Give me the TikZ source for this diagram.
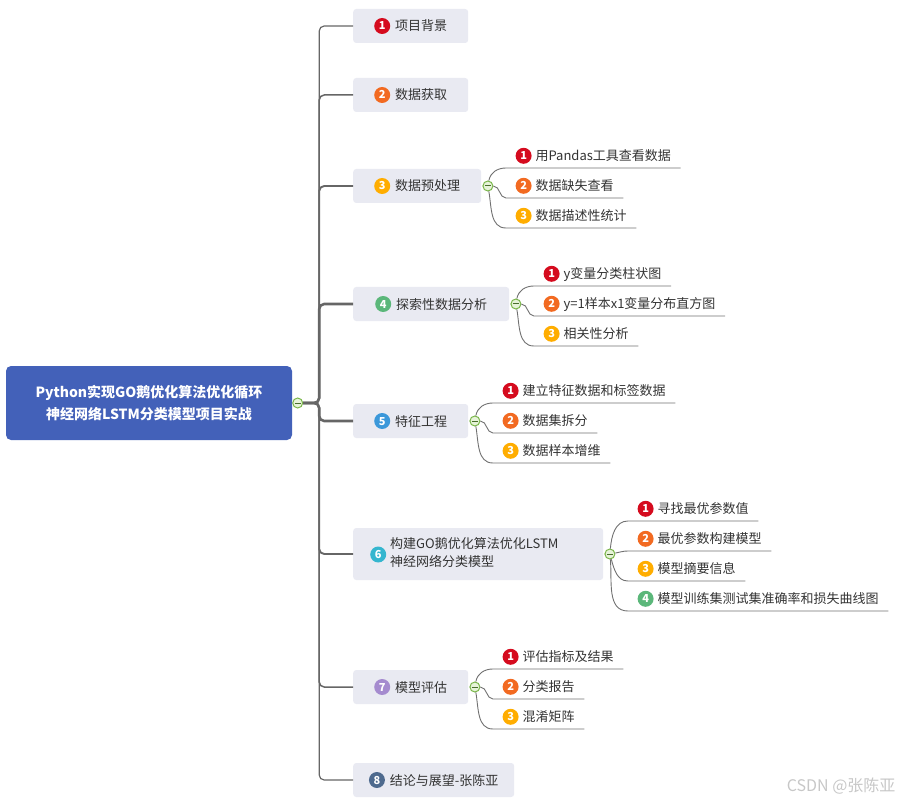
\documentclass[tikz,border=0pt]{standalone}
\usepackage{fontspec}
\setmainfont{Noto Sans CJK SC}
\usepackage{tikz}
\usetikzlibrary{positioning, calc}

\definecolor{rootblue}{HTML}{4361B9}
\definecolor{boxgray}{HTML}{E9EAF2}
\definecolor{ink}{HTML}{333333}
\definecolor{linegray}{HTML}{666666}
\definecolor{twiggray}{HTML}{707070}
\definecolor{togline}{HTML}{7AB64A}
\definecolor{togfill}{HTML}{E6F3D8}
\definecolor{c1}{HTML}{D50B1E}
\definecolor{c2}{HTML}{F26A21}
\definecolor{c3}{HTML}{FFAD00}
\definecolor{c4}{HTML}{5BB77A}
\definecolor{c5}{HTML}{3B98DA}
\definecolor{c6}{HTML}{35B6CF}
\definecolor{c7}{HTML}{A58BCF}
\definecolor{c8}{HTML}{4E6A8E}

% numbered badge
\newcommand{\nb}[2]{\tikz[baseline=-5pt]\fill[#1] (0,0) circle (8pt);\hspace{-16pt}\makebox[16pt]{\raisebox{1pt}{\color{white}\fontsize{11}{11}\selectfont\bfseries #2}}}

\begin{document}
\begin{tikzpicture}[
    x=1pt, y=-1pt,
    root/.style={fill=rootblue, rounded corners=5pt, text=white, font=\fontsize{14}{22}\selectfont\bfseries, align=center, minimum width=286pt, minimum height=74pt, inner sep=0pt},
    topic/.style={fill=boxgray, rounded corners=3pt, text=ink, font=\fontsize{13}{18}\selectfont, minimum height=34pt, minimum width=#1, inner xsep=0pt, anchor=west},
    topic/.default=115pt,
    leaf/.style={text=ink, font=\fontsize{13}{18}\selectfont, anchor=south west, inner xsep=9.5pt, inner ysep=4pt, text height=13pt, text depth=3pt},
    tog/.style={circle, draw=togline, fill=togfill, line width=1pt, minimum size=10pt, inner sep=0pt,
        path picture={\draw[togline!60!black, line width=1pt] ([xshift=-3pt]path picture bounding box.center) -- ([xshift=3pt]path picture bounding box.center);}},
    trunk/.style={draw=linegray, line width=#1, rounded corners=5pt},
    twig/.style={draw=twiggray, line width=0.9pt}
]
\useasboundingbox (0,0) rectangle (902,802);

\node[root] (root) at (149,403) {Python实现GO鹅优化算法优化循环\\神经网络LSTM分类模型项目实战};
\node[tog, right=0pt of root] (t0) {};

% first level
\node[topic] (n1) at (353,26) {\nb{c1}{1}\hspace{5pt}项目背景};
\node[topic] (n2) at (353,95) {\nb{c2}{2}\hspace{5pt}数据获取};
\node[topic=128pt] (n3) at (353,186) {\nb{c3}{3}\hspace{5pt}数据预处理};
\node[topic=156pt] (n4) at (353,304) {\nb{c4}{4}\hspace{5pt}探索性数据分析};
\node[topic=250pt, minimum height=52pt, inner xsep=17pt] (n6) at (353,554) {\makebox[216pt][l]{\raisebox{-2.5pt}{\nb{c6}{6}}\hspace{4pt}\begin{tabular}[c]{@{}l@{}}构建GO鹅优化算法优化LSTM\\神经网络分类模型\end{tabular}}};
\node[topic] (n5) at (353,421) {\nb{c5}{5}\hspace{5pt}特征工程};
\node[topic] (n7) at (353,687) {\nb{c7}{7}\hspace{5pt}模型评估};
\node[topic=161pt] (n8) at (353,780) {\nb{c8}{8}\hspace{5pt}结论与展望-张陈亚};

\draw[trunk=1.2pt] (t0.east) -- ++(16,0) |- (n1.west);
\draw[trunk=1.5pt] (t0.east) -- ++(16,0) |- (n2.west);
\draw[trunk=1.9pt] (t0.east) -- ++(16,0) |- (n3.west);
\draw[trunk=2.6pt] (t0.east) -- ++(16,0) |- (n4.west);
\draw[trunk=2.6pt] (t0.east) -- ++(16,0) |- (n5.west);
\draw[trunk=1.9pt] (t0.east) -- ++(16,0) |- (n6.west);
\draw[trunk=1.5pt] (t0.east) -- ++(16,0) |- (n7.west);
\draw[trunk=1.2pt] (t0.east) -- ++(16,0) |- (n8.west);

% toggles
\node[tog, right=1pt of n3] (t3) {};
\node[tog, right=1pt of n4] (t4) {};
\node[tog, right=1pt of n5] (t5) {};
\node[tog, right=1pt of n6] (t6) {};
\node[tog, right=1pt of n7] (t7) {};

% children of 3
\node[leaf] (c31) at ($(t3)+(18,-18)$) {\nb{c1}{1}\hspace{4pt}用Pandas工具查看数据};
\node[leaf] (c32) at ($(t3)+(18,12)$) {\nb{c2}{2}\hspace{4pt}数据缺失查看};
\node[leaf] (c33) at ($(t3)+(18,42)$) {\nb{c3}{3}\hspace{4pt}数据描述性统计};
\draw[twig] (t3) to[out=80, in=180] (c31.south west) -- (c31.south east);
\draw[twig] (t3) to[out=0, in=180] (c32.south west) -- (c32.south east);
\draw[twig] (t3) to[out=-80, in=180] (c33.south west) -- (c33.south east);

% children of 4
\node[leaf] (c41) at ($(t4)+(18,-18)$) {\nb{c1}{1}\hspace{4pt}y变量分类柱状图};
\node[leaf] (c42) at ($(t4)+(18,12)$) {\nb{c2}{2}\hspace{4pt}y=1样本x1变量分布直方图};
\node[leaf] (c43) at ($(t4)+(18,42)$) {\nb{c3}{3}\hspace{4pt}相关性分析};
\draw[twig] (t4) to[out=80, in=180] (c41.south west) -- (c41.south east);
\draw[twig] (t4) to[out=0, in=180] (c42.south west) -- (c42.south east);
\draw[twig] (t4) to[out=-80, in=180] (c43.south west) -- (c43.south east);

% children of 5
\node[leaf] (c51) at ($(t5)+(18,-18)$) {\nb{c1}{1}\hspace{4pt}建立特征数据和标签数据};
\node[leaf] (c52) at ($(t5)+(18,12)$) {\nb{c2}{2}\hspace{4pt}数据集拆分};
\node[leaf] (c53) at ($(t5)+(18,42)$) {\nb{c3}{3}\hspace{4pt}数据样本增维};
\draw[twig] (t5) to[out=80, in=180] (c51.south west) -- (c51.south east);
\draw[twig] (t5) to[out=0, in=180] (c52.south west) -- (c52.south east);
\draw[twig] (t5) to[out=-80, in=180] (c53.south west) -- (c53.south east);

% children of 6
\node[leaf] (c61) at ($(t6)+(18,-33)$) {\nb{c1}{1}\hspace{4pt}寻找最优参数值};
\node[leaf] (c62) at ($(t6)+(18,-3)$) {\nb{c2}{2}\hspace{4pt}最优参数构建模型};
\node[leaf] (c63) at ($(t6)+(18,27)$) {\nb{c3}{3}\hspace{4pt}模型摘要信息};
\node[leaf] (c64) at ($(t6)+(18,57)$) {\nb{c4}{4}\hspace{4pt}模型训练集测试集准确率和损失曲线图};
\draw[twig] (t6) to[out=85, in=180] (c61.south west) -- (c61.south east);
\draw[twig] (t6) to[out=10, in=180] (c62.south west) -- (c62.south east);
\draw[twig] (t6) to[out=-75, in=180] (c63.south west) -- (c63.south east);
\draw[twig] (t6) to[out=-85, in=180] (c64.south west) -- (c64.south east);

% children of 7
\node[leaf] (c71) at ($(t7)+(18,-18)$) {\nb{c1}{1}\hspace{4pt}评估指标及结果};
\node[leaf] (c72) at ($(t7)+(18,12)$) {\nb{c2}{2}\hspace{4pt}分类报告};
\node[leaf] (c73) at ($(t7)+(18,42)$) {\nb{c3}{3}\hspace{4pt}混淆矩阵};
\draw[twig] (t7) to[out=80, in=180] (c71.south west) -- (c71.south east);
\draw[twig] (t7) to[out=0, in=180] (c72.south west) -- (c72.south east);
\draw[twig] (t7) to[out=-80, in=180] (c73.south west) -- (c73.south east);

\node[anchor=east, text=black!22, font=\fontsize{16}{16}\selectfont] (mark) at (899,786) {CSDN @张陈亚};

\end{tikzpicture}
\end{document}
